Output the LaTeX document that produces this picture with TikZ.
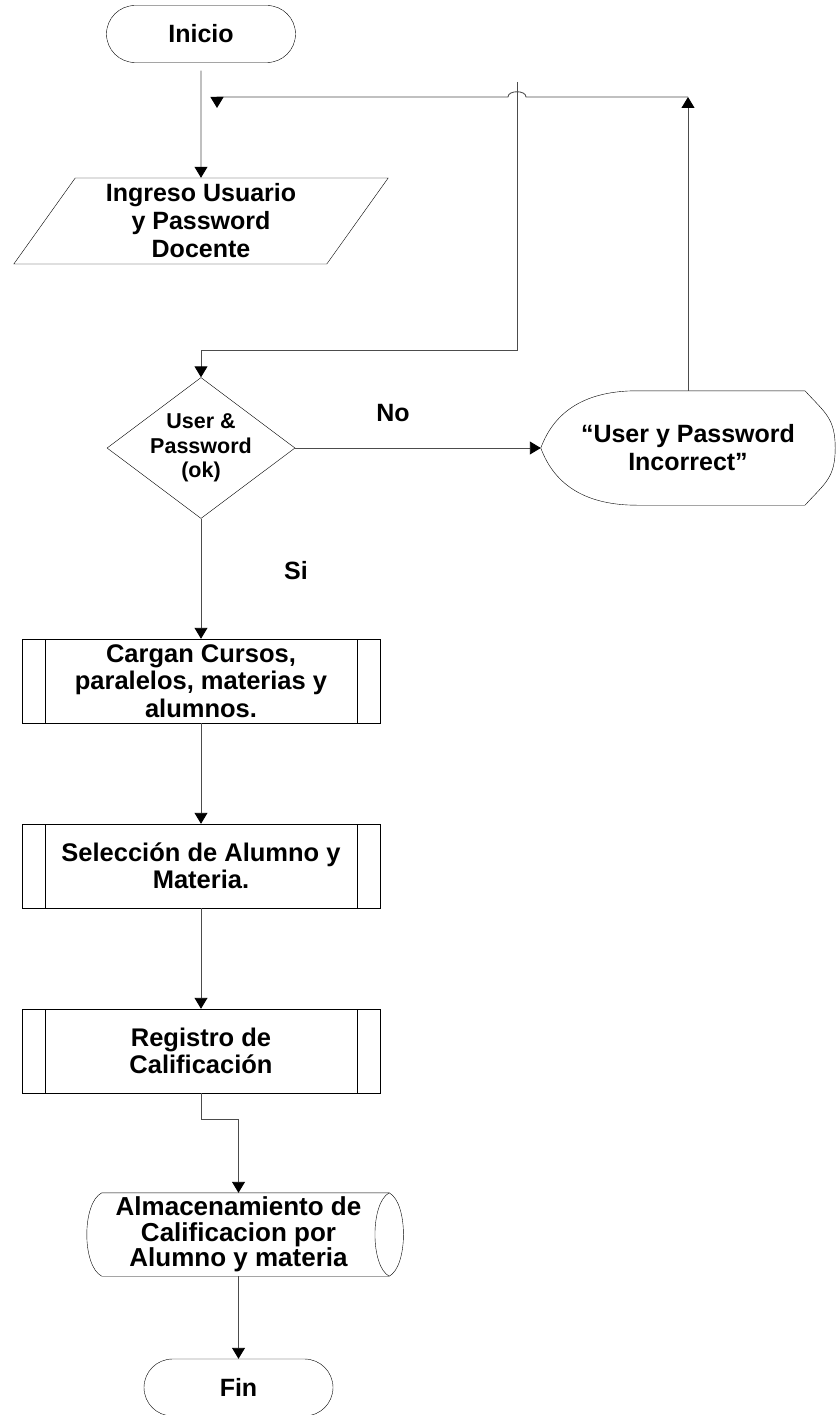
\documentclass[tikz,border=0pt]{standalone}
\usepackage{fontspec}
\setmainfont{Liberation Sans}
\usetikzlibrary{arrows.meta,shapes.geometric,shapes.misc}

\begin{document}
\begin{tikzpicture}[x=1pt, y=-1pt,
    txt/.style={align=center, inner sep=0pt, font=\fontsize{25}{28}\selectfont\bfseries},
    term/.style={txt, draw, rounded rectangle, minimum width=189pt, minimum height=57pt},
    inout/.style={txt, draw, trapezium, trapezium left angle=58, trapezium right angle=122, trapezium stretches=true, minimum width=375pt, minimum height=86pt},
    dec/.style={draw, diamond, minimum width=188pt, minimum height=141pt, inner sep=0pt},
    proc/.style={txt, draw, minimum width=358pt, minimum height=84pt, font=\fontsize{25.5}{27.5}\selectfont\bfseries,
        path picture={\draw ([xshift=23pt]path picture bounding box.north west) -- ([xshift=23pt]path picture bounding box.south west)
                            ([xshift=-23pt]path picture bounding box.north east) -- ([xshift=-23pt]path picture bounding box.south east);}},
    link/.style={draw=black!70, line width=0.9pt},
    arr/.style={link, -{Triangle[length=11pt, width=13pt, color=black]}}
]
\useasboundingbox (0,0) rectangle (835,1415);

\node[term] (ini) at (201,34) {Inicio};
\node[inout] (inp) at (201,221) {Ingreso Usuario\\y Password\\Docente};
\node[dec, label={[txt, font=\fontsize{21.5}{24.5}\selectfont\bfseries]center:{User \&\\Password\\(ok)}}] (ok) at (201,448) {};
\node[txt, minimum width=294pt, minimum height=114pt] (msg) at (688,448) {“User y Password\\Incorrect”};
\node[txt] (no) at (393,413) {No};
\node[txt] (si) at (296,571) {Si};
\node[proc] (p1) at (201,681) {Cargan Cursos,\\paralelos, materias y\\alumnos.};
\node[proc] (p2) at (201,866) {Selección de Alumno y\\Materia.};
\node[proc] (p3) at (201,1051) {Registro de\\Calificación};
\node[txt, minimum width=273pt, minimum height=83pt, font=\fontsize{26}{25.5}\selectfont\bfseries] (store) at (238.5,1234.5) {Almacenamiento de\\Calificacion por\\Alumno y materia};
\node[term] (fin) at (238.5,1387.5) {Fin};

% display outline
\draw (msg.west) .. controls +(14,-38) and +(-50,0) .. ([xshift=-51pt]msg.north)
    -- ([xshift=117pt]msg.north) .. controls +(20,22) and +(0,-30) .. (msg.east)
    .. controls +(0,30) and +(20,-22) .. ([xshift=117pt]msg.south)
    -- ([xshift=-51pt]msg.south) .. controls +(-50,0) and +(14,38) .. (msg.west);
% stored data outline
\draw (store.north west) -- ([xshift=14pt]store.north east)
    .. controls +(19,10) and +(19,-10) .. ([xshift=14pt]store.south east)
    -- (store.south west) .. controls +(-20,-10) and +(-20,10) .. cycle;
\draw ([xshift=14pt]store.north east) .. controls +(-19,10) and +(-19,-10) .. ([xshift=14pt]store.south east);

\coordinate (turn) at (688,97);
\coordinate (back) at (217,97);
\coordinate (jmp) at (517,97);
\coordinate (loose) at (517,82);
\coordinate (bend) at (517,350);

\draw[arr, shorten <=8pt] (ini) -- (inp);
\draw[arr] (msg.north) -- (turn);
\draw[arr] (turn) -- ([xshift=9pt]jmp) .. controls +(0,-7) and +(0,-7) .. ([xshift=-9pt]jmp) -- (back) -- ++(0,11);
\draw[arr] (loose) -- (bend) -| (ok.north);
\draw[arr] (ok.east) -- (msg.west);
\draw[arr] (ok.south) -- (p1.north);
\draw[arr] (p1) -- (p2);
\draw[arr] (p2) -- (p3);
\draw[arr] (p3.south) -- ++(0,26) -| (store.north);
\draw[arr] (store.south) -- (fin.north);
\end{tikzpicture}
\end{document}
